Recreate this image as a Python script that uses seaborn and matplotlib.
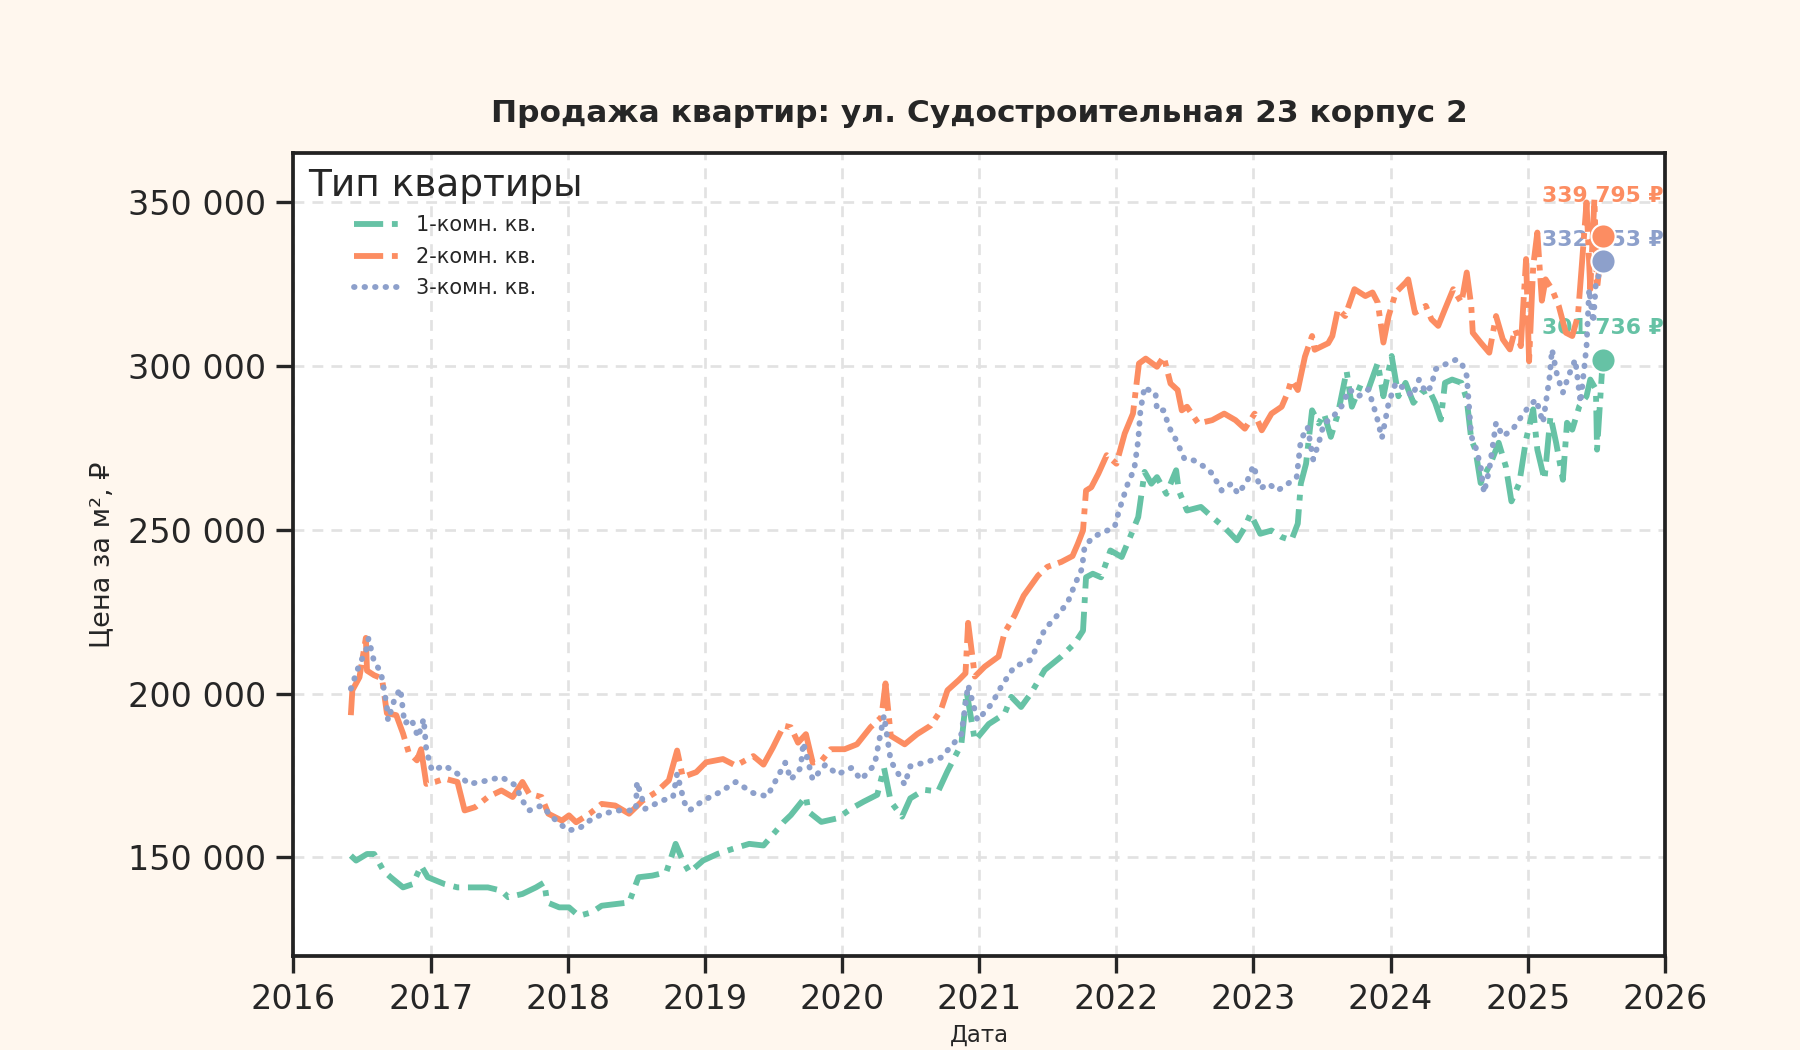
import matplotlib

matplotlib.use("Agg")
import matplotlib.dates as mdates
import matplotlib.pyplot as plt
import matplotlib.ticker as mticker
import pandas as pd
import seaborn as sns

TITLE = "Продажа квартир: ул. Судостроительная 23 корпус 2"
LABELS = ["1-комн. кв.", "2-комн. кв.", "3-комн. кв."]
COLORS = ["#66c2a5", "#fc8d62", "#8da0cb"]

# (дата, цена за м²)
ROOM_1 = [
    ("2016-06-02", 150500), ("2016-06-16", 149000), ("2016-07-15", 151000), ("2016-08-03", 151000),
    ("2016-08-28", 145900), ("2016-09-16", 143900), ("2016-10-19", 140800), ("2016-11-14", 141800),
    ("2016-12-06", 147400), ("2016-12-24", 143900), ("2017-02-07", 141800), ("2017-03-13", 140800),
    ("2017-04-29", 140800), ("2017-06-02", 140800), ("2017-07-08", 139800), ("2017-07-26", 137800),
    ("2017-09-02", 138800), ("2017-10-08", 140800), ("2017-10-30", 142300), ("2017-11-07", 136200),
    ("2017-12-09", 134700), ("2018-01-04", 134700), ("2018-01-30", 132100), ("2018-03-06", 133200),
    ("2018-04-01", 135200), ("2018-05-07", 135700), ("2018-06-13", 136200), ("2018-07-08", 143900),
    ("2018-08-14", 144400), ("2018-09-20", 145400), ("2018-10-15", 154100), ("2018-11-03", 149000),
    ("2018-11-21", 145400), ("2018-12-27", 149000), ("2019-02-03", 151000), ("2019-03-17", 152600),
    ("2019-04-29", 154100), ("2019-06-06", 153600), ("2019-07-30", 160800), ("2019-08-18", 162900),
    ("2019-09-27", 168600), ("2019-10-04", 163900), ("2019-11-07", 160800), ("2019-12-20", 161900),
    ("2020-01-26", 164900), ("2020-02-28", 167000), ("2020-04-04", 169100), ("2020-04-22", 177300),
    ("2020-05-10", 167000), ("2020-06-09", 162400), ("2020-07-01", 168000), ("2020-08-07", 170600),
    ("2020-09-13", 170100), ("2020-10-08", 176300), ("2020-11-14", 184500), ("2020-11-28", 200500),
    ("2020-12-20", 185600), ("2021-01-26", 190700), ("2021-03-09", 193800), ("2021-03-27", 199000),
    ("2021-04-22", 195900), ("2021-05-18", 200000), ("2021-06-24", 207200), ("2021-08-07", 211300),
    ("2021-09-13", 215500), ("2021-10-04", 219200), ("2021-10-12", 235500), ("2021-10-30", 236600),
    ("2021-11-21", 235500), ("2021-12-16", 243700), ("2022-01-15", 241700), ("2022-02-10", 248800),
    ("2022-02-28", 253900), ("2022-03-17", 267700), ("2022-04-04", 264100), ("2022-04-19", 266100),
    ("2022-05-14", 261000), ("2022-06-09", 268200), ("2022-06-16", 262000), ("2022-07-08", 255900),
    ("2022-08-14", 257000), ("2022-09-13", 253900), ("2022-10-15", 250800), ("2022-11-18", 246800),
    ("2022-12-09", 250800), ("2022-12-24", 254900), ("2023-01-19", 248800), ("2023-02-18", 249800),
    ("2023-03-17", 247800), ("2023-04-12", 246800), ("2023-04-29", 251900), ("2023-05-07", 264100),
    ("2023-05-21", 270200), ("2023-06-06", 286500), ("2023-06-24", 282500), ("2023-07-08", 285500),
    ("2023-07-26", 278400), ("2023-08-14", 285500), ("2023-09-06", 298500), ("2023-09-20", 287600),
    ("2023-10-15", 294700), ("2023-11-03", 292900), ("2023-11-28", 301000), ("2023-12-13", 290800),
    ("2024-01-04", 303100), ("2024-01-22", 290800), ("2024-02-10", 294900), ("2024-03-02", 288800),
    ("2024-03-24", 291900), ("2024-04-12", 292900), ("2024-04-29", 288800), ("2024-05-14", 283700),
    ("2024-05-25", 294900), ("2024-06-13", 295900), ("2024-07-08", 294900), ("2024-07-22", 289800),
    ("2024-08-03", 277600), ("2024-08-14", 274500), ("2024-08-28", 264300), ("2024-09-06", 266400),
    ("2024-09-24", 270400), ("2024-10-15", 276600), ("2024-11-03", 269400), ("2024-11-18", 258700),
    ("2024-12-09", 264300), ("2024-12-27", 277600), ("2025-01-15", 286800), ("2025-01-26", 274500),
    ("2025-02-14", 265300), ("2025-03-02", 284700), ("2025-03-17", 276600), ("2025-04-04", 265300),
    ("2025-04-15", 282700), ("2025-04-29", 280600), ("2025-05-18", 287800), ("2025-06-06", 290800),
    ("2025-06-16", 295900), ("2025-07-01", 292900), ("2025-07-04", 274500), ("2025-07-19", 301736),
]

ROOM_2 = [
    ("2016-06-02", 193400), ("2016-06-06", 201000), ("2016-06-25", 205000), ("2016-07-12", 217000),
    ("2016-07-15", 207000), ("2016-08-03", 205600), ("2016-08-24", 204600), ("2016-09-06", 194000),
    ("2016-10-01", 193400), ("2016-10-19", 187800), ("2016-11-03", 182000), ("2016-11-25", 179600),
    ("2016-12-06", 183000), ("2016-12-20", 172400), ("2017-01-12", 173000), ("2017-02-07", 174000),
    ("2017-03-13", 173000), ("2017-04-01", 164300), ("2017-04-29", 165300), ("2017-06-02", 168400),
    ("2017-07-08", 170400), ("2017-08-07", 168400), ("2017-09-02", 173000), ("2017-09-20", 169400),
    ("2017-10-23", 168400), ("2017-11-10", 163300), ("2017-12-16", 161200), ("2018-01-04", 162800),
    ("2018-01-23", 160700), ("2018-02-28", 163300), ("2018-04-01", 166300), ("2018-05-07", 165800),
    ("2018-06-13", 163300), ("2018-07-19", 167300), ("2018-08-24", 169900), ("2018-09-27", 173500),
    ("2018-10-19", 182600), ("2018-11-03", 174500), ("2018-12-09", 176000), ("2019-01-04", 179000),
    ("2019-02-18", 180000), ("2019-03-24", 178000), ("2019-05-10", 180900), ("2019-06-06", 178300),
    ("2019-07-01", 183500), ("2019-07-30", 190200), ("2019-08-18", 189700), ("2019-09-06", 185000),
    ("2019-09-27", 187600), ("2019-10-15", 178900), ("2019-11-07", 179400), ("2019-12-02", 183000),
    ("2020-01-08", 183000), ("2020-02-10", 184500), ("2020-03-17", 189700), ("2020-04-15", 192800),
    ("2020-04-26", 203100), ("2020-05-10", 187100), ("2020-06-16", 184500), ("2020-07-19", 187600),
    ("2020-08-24", 190200), ("2020-09-20", 194800), ("2020-10-08", 201000), ("2020-11-07", 204100),
    ("2020-11-25", 206200), ("2020-12-02", 221600), ("2020-12-20", 205200), ("2021-01-15", 208200),
    ("2021-02-21", 211300), ("2021-03-09", 218600), ("2021-04-04", 223700), ("2021-04-29", 229900),
    ("2021-06-06", 236000), ("2021-07-01", 238700), ("2021-08-07", 240200), ("2021-09-06", 242000),
    ("2021-09-20", 245700), ("2021-10-04", 249800), ("2021-10-12", 262000), ("2021-10-26", 263000),
    ("2021-11-14", 267200), ("2021-12-06", 272800), ("2022-01-01", 270200), ("2022-01-23", 279400),
    ("2022-02-14", 285500), ("2022-03-02", 300800), ("2022-03-20", 302300), ("2022-04-19", 299800),
    ("2022-05-07", 302900), ("2022-05-25", 294700), ("2022-06-13", 292700), ("2022-06-24", 286500),
    ("2022-07-08", 287600), ("2022-08-07", 282500), ("2022-09-13", 283500), ("2022-10-15", 285500),
    ("2022-11-14", 283500), ("2022-12-09", 280900), ("2023-01-04", 285500), ("2023-01-23", 280400),
    ("2023-02-18", 285500), ("2023-03-17", 287600), ("2023-04-01", 291600), ("2023-04-12", 295700),
    ("2023-04-29", 292700), ("2023-05-18", 302900), ("2023-06-06", 309200), ("2023-06-13", 305000),
    ("2023-07-01", 306000), ("2023-07-19", 307000), ("2023-07-30", 309200), ("2023-08-14", 317400),
    ("2023-09-02", 315300), ("2023-09-27", 323500), ("2023-10-26", 321400), ("2023-11-14", 322500),
    ("2023-11-28", 319400), ("2023-12-13", 307200), ("2023-12-27", 315300), ("2024-01-15", 322500),
    ("2024-02-10", 325500), ("2024-02-17", 326500), ("2024-03-06", 316300), ("2024-04-04", 318400),
    ("2024-04-19", 314300), ("2024-05-07", 312300), ("2024-05-25", 317400), ("2024-06-16", 323500),
    ("2024-07-08", 319400), ("2024-07-22", 328600), ("2024-08-03", 318400), ("2024-08-07", 310200),
    ("2024-08-28", 307200), ("2024-09-20", 304100), ("2024-10-08", 315300), ("2024-10-26", 308200),
    ("2024-11-14", 305100), ("2024-11-28", 311200), ("2024-12-13", 306100), ("2024-12-27", 332700),
    ("2025-01-04", 301500), ("2025-01-15", 330600), ("2025-01-26", 340800), ("2025-02-07", 320000),
    ("2025-02-17", 326500), ("2025-03-06", 323500), ("2025-03-24", 318400), ("2025-04-12", 310200),
    ("2025-04-29", 309200), ("2025-05-14", 315300), ("2025-05-25", 331600), ("2025-06-06", 350000),
    ("2025-06-16", 323500), ("2025-06-27", 351000), ("2025-07-04", 323500), ("2025-07-19", 339795),
]

ROOM_3 = [
    ("2016-06-02", 201500), ("2016-06-25", 209000), ("2016-07-12", 213000), ("2016-07-19", 216800),
    ("2016-08-03", 209700), ("2016-08-21", 206600), ("2016-09-06", 196000), ("2016-09-09", 191800),
    ("2016-09-27", 198500), ("2016-10-12", 201500), ("2016-10-23", 190800), ("2016-11-10", 192300),
    ("2016-11-28", 186700), ("2016-12-13", 192300), ("2016-12-20", 182700), ("2017-01-04", 176500),
    ("2017-02-07", 178000), ("2017-03-13", 175500), ("2017-04-12", 172400), ("2017-05-14", 173000),
    ("2017-07-08", 174500), ("2017-08-14", 172000), ("2017-09-02", 167300), ("2017-09-20", 164300),
    ("2017-10-23", 165800), ("2017-11-21", 162200), ("2018-01-01", 158200), ("2018-01-30", 158700),
    ("2018-02-28", 161200), ("2018-04-04", 163300), ("2018-05-18", 164300), ("2018-07-01", 164300),
    ("2018-07-04", 173000), ("2018-07-26", 164800), ("2018-09-09", 167300), ("2018-10-08", 168400),
    ("2018-10-19", 175500), ("2018-11-07", 166800), ("2018-11-21", 164300), ("2018-12-27", 167300),
    ("2019-02-10", 169900), ("2019-03-24", 173000), ("2019-05-10", 169600), ("2019-06-16", 168600),
    ("2019-07-12", 174200), ("2019-08-03", 178900), ("2019-08-18", 173700), ("2019-09-13", 177300),
    ("2019-09-20", 185000), ("2019-10-15", 173700), ("2019-11-18", 178300), ("2019-12-20", 175300),
    ("2020-01-26", 177300), ("2020-02-21", 173700), ("2020-03-28", 178300), ("2020-04-22", 193300),
    ("2020-05-10", 179400), ("2020-06-16", 172200), ("2020-07-01", 177800), ("2020-08-07", 178900),
    ("2020-09-20", 180400), ("2020-10-19", 184000), ("2020-11-14", 187600), ("2020-12-02", 202600),
    ("2020-12-27", 191800), ("2021-02-03", 196900), ("2021-02-28", 202100), ("2021-04-04", 208200),
    ("2021-05-18", 210300), ("2021-06-24", 219600), ("2021-07-30", 224200), ("2021-08-24", 227800),
    ("2021-09-13", 233500), ("2021-10-01", 238100), ("2021-10-08", 244700), ("2021-10-30", 247800),
    ("2021-11-28", 249300), ("2021-12-27", 250800), ("2022-01-08", 255900), ("2022-02-03", 265100),
    ("2022-02-17", 268200), ("2022-02-28", 277400), ("2022-03-06", 286500), ("2022-03-17", 293700),
    ("2022-03-28", 292700), ("2022-04-15", 291900), ("2022-04-19", 286500), ("2022-05-07", 286500),
    ("2022-05-21", 281400), ("2022-06-09", 277400), ("2022-07-01", 271700), ("2022-07-26", 271200),
    ("2022-08-24", 269200), ("2022-09-13", 267200), ("2022-10-08", 262000), ("2022-11-03", 264100),
    ("2022-11-21", 261000), ("2022-12-16", 265100), ("2023-01-01", 269700), ("2023-01-19", 262600),
    ("2023-02-10", 264100), ("2023-03-06", 262000), ("2023-03-28", 263600), ("2023-04-26", 266100),
    ("2023-05-07", 277400), ("2023-05-25", 281400), ("2023-06-09", 271500), ("2023-06-24", 276600),
    ("2023-07-08", 282700), ("2023-07-26", 283700), ("2023-08-24", 287800), ("2023-09-13", 292900),
    ("2023-10-08", 290800), ("2023-11-03", 292900), ("2023-11-25", 284700), ("2023-12-09", 278000),
    ("2023-12-27", 288800), ("2024-01-15", 294900), ("2024-02-10", 292900), ("2024-02-28", 290800),
    ("2024-03-17", 295900), ("2024-04-04", 291900), ("2024-04-19", 293900), ("2024-04-29", 299000),
    ("2024-05-25", 300500), ("2024-06-24", 302000), ("2024-07-08", 301000), ("2024-07-22", 297000),
    ("2024-08-03", 278600), ("2024-08-14", 275500), ("2024-08-28", 269400), ("2024-09-06", 261300),
    ("2024-09-20", 268400), ("2024-10-08", 282700), ("2024-10-26", 278600), ("2024-11-21", 280600),
    ("2024-12-09", 283700), ("2025-01-04", 287800), ("2025-01-23", 289800), ("2025-02-10", 282700),
    ("2025-02-28", 297000), ("2025-03-06", 305100), ("2025-03-20", 297000), ("2025-04-04", 291900),
    ("2025-04-19", 297000), ("2025-05-07", 302000), ("2025-05-21", 288800), ("2025-06-06", 306100),
    ("2025-06-13", 323500), ("2025-06-24", 313300), ("2025-07-01", 325500), ("2025-07-08", 327600),
    ("2025-07-19", 332153),
]

SERIES = [ROOM_1, ROOM_2, ROOM_3]
LABEL_OFFSETS = [15.4, 19, 10]  # points above the end marker


def fmt_space(v):
    return f"{int(round(v)):,}".replace(",", " ")


sns.set_style("ticks")
plt.rcParams["font.family"] = ["DejaVu Sans"]

frames = []
for label, pts in zip(LABELS, SERIES):
    part = pd.DataFrame(pts, columns=["date", "price"])
    part["type"] = label
    frames.append(part)
df = pd.concat(frames, ignore_index=True)
df["date"] = pd.to_datetime(df["date"])

fig, ax = plt.subplots(figsize=(12, 7), dpi=150)
fig.patch.set_facecolor("#fff7ee")
ax.set_facecolor("white")
fig.subplots_adjust(left=0.163, right=0.925, top=0.854, bottom=0.090)

ax.grid(True, linestyle=(0, (4, 3)), color="#e2e2e2", linewidth=1.3, zorder=0)

dashes = {
    LABELS[0]: (5, 1.5, 1, 1.5),
    LABELS[1]: (9, 1.3, 1, 1.3),
    LABELS[2]: (0.1, 1.7),
}
sns.lineplot(
    data=df, x="date", y="price", hue="type", style="type",
    hue_order=LABELS, style_order=LABELS,
    palette=COLORS, dashes=dashes, linewidth=2.8, ax=ax, zorder=2,
)

for label, pts, color, off in zip(LABELS, SERIES, COLORS, LABEL_OFFSETS):
    last_date = pd.to_datetime(pts[-1][0])
    last_val = pts[-1][1]
    ax.scatter([last_date], [last_val], s=135, color=color, edgecolor="white",
               linewidth=1.0, zorder=4)
    ax.annotate(f"{fmt_space(last_val)} ₽", (last_date, last_val),
                xytext=(0, off), textcoords="offset points",
                ha="center", va="center", fontsize=10.5, fontweight="bold",
                color=color, zorder=1.9)

ax.set_xlim(pd.Timestamp("2016-01-01"), pd.Timestamp("2026-01-01"))
ax.set_ylim(120000, 365000)
ax.xaxis.set_major_locator(mdates.YearLocator())
ax.xaxis.set_major_formatter(mdates.DateFormatter("%Y"))
ax.yaxis.set_major_locator(mticker.MultipleLocator(50000))
ax.yaxis.set_major_formatter(mticker.FuncFormatter(lambda v, p: fmt_space(v)))
ax.tick_params(axis="both", labelsize=16, length=8, width=1.6, pad=5, colors="#262626")

for spine in ax.spines.values():
    spine.set_visible(True)
    spine.set_linewidth(1.8)
    spine.set_color("#222222")

ax.set_title(TITLE, fontsize=15, fontweight="bold", pad=15, color="#262626")
ax.set_xlabel("Дата", fontsize=11, color="#262626", labelpad=4)
ax.set_ylabel("Цена за м², ₽", fontsize=13, color="#262626", labelpad=6)

leg = ax.legend(title="Тип квартиры", loc="upper left", frameon=False,
                fontsize=10, title_fontsize=18, borderaxespad=0.3,
                handlelength=2.2, labelspacing=0.55)

# series lines are drawn in hue order; give the dotted one round caps
series_lines = [ln for ln in ax.get_lines() if len(ln.get_xdata()) > 1][:3]
for i, line in enumerate(series_lines):
    line.set_dash_capstyle("round" if i == 2 else "butt")
for i, handle in enumerate(leg.get_lines()):
    handle.set_dash_capstyle("round" if i == 2 else "butt")
    if i < 2:
        handle.set_dashes((5, 1.5, 1, 1.5))

fig.savefig("out.png", dpi=150, facecolor=fig.get_facecolor())
